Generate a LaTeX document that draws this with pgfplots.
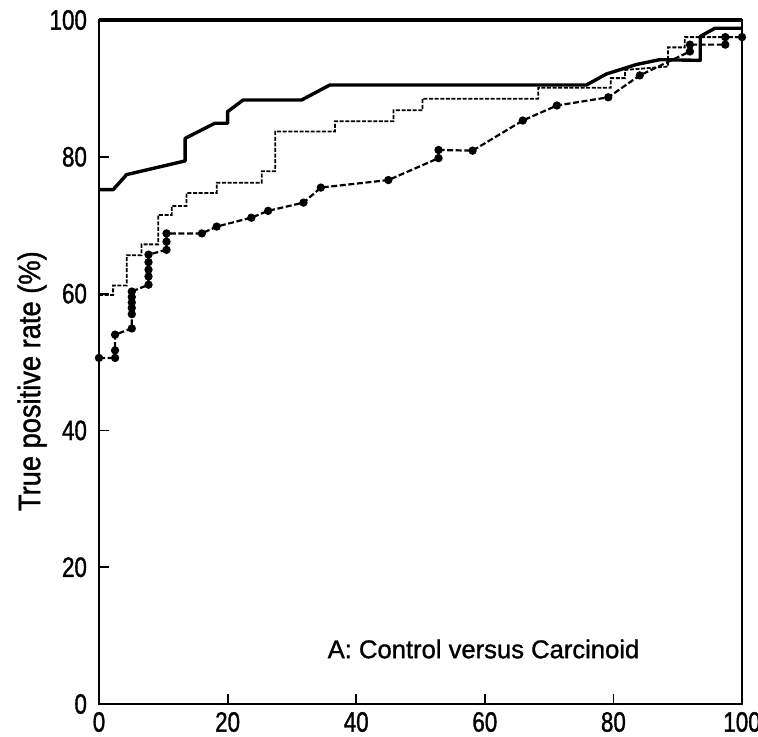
\documentclass[border=0pt]{standalone}
\usepackage{pgfplots}
\pgfplotsset{compat=1.18}
\usepackage{fontspec}
\setmainfont{Liberation Sans}[FakeBold=1.2]
\newfontfamily\tickfont{Liberation Sans}[FakeStretch=0.8, FakeBold=1.2]
\newfontfamily\labelfont{Liberation Sans}[FakeStretch=0.88, FakeBold=1.2]
\begin{document}
\begin{tikzpicture}
\path[use as bounding box] (-49.5pt,-16pt) rectangle (329.5pt,352pt);
\begin{axis}[
  at={(0,0)}, anchor=south west,
  scale only axis, width=321.5pt, height=342pt,
  xmin=0, xmax=100, ymin=0, ymax=100,
  xtick={0,20,40,60,80,100}, ytick={0,20,40,60,80,100},
  tick pos=left, tick align=inside, major tick length=5pt,
  axis line style={line width=1.3pt},
  every tick/.style={line width=0.9pt, black},
  /pgf/number format/assume math mode=true,
  ticklabel style={font=\tickfont\fontsize{14}{14}\selectfont},
  yticklabel style={xshift=-2.5pt},
  xticklabel style={yshift=-0.5pt},
  ylabel={True positive rate (\%)},
  every axis y label/.style={at={(axis description cs:-0.104,0.472)}, rotate=90, anchor=center, font=\labelfont\fontsize{15.5}{16}\selectfont},
  clip=false,
]
% solid curve
\addplot[black, line width=1.7pt, line join=round] coordinates {
(0,75.2) (2.2,75.2) (4.3,77.4) (13.4,79.4) (13.4,82.7) (18.0,84.9) (20.0,84.9)
(20.0,86.6) (22.4,88.3) (31.5,88.3) (35.9,90.5) (75.8,90.5) (78.9,92.1)
(83.6,93.5) (87.2,94.2) (93.5,94.1) (93.5,97.6) (95.8,98.8) (100,98.8)
};
% dashed step curve
\addplot[black, line width=0.9pt, dash pattern=on 2pt off 0.8pt] coordinates {
(0,59.8) (2.2,59.8) (2.2,61.2) (4.3,61.2) (4.3,65.6) (6.6,65.6) (6.6,67.2)
(9.2,67.2) (9.2,71.5) (11.3,71.5) (11.3,72.8) (13.6,72.8) (13.6,74.7)
(18.3,74.7) (18.3,76.2) (25.3,76.2) (25.3,77.9) (27.4,77.9) (27.4,83.7)
(36.7,83.7) (36.7,85.2) (45.8,85.2) (45.8,86.8) (50.3,86.8) (50.3,88.5)
(68.3,88.5) (68.3,90.1) (79.6,90.1) (79.6,91.5) (81.8,91.5) (81.8,92.7)
(88.5,93.2) (88.5,96.0) (91.1,96.0) (91.1,97.5) (100,97.5)
};
% marker curve
\addplot[black, line width=1.1pt, dash pattern=on 3pt off 1.3pt,
  mark=*, mark size=1.5pt, mark options={solid}] coordinates {
(0,50.6) (2.5,50.6) (2.5,51.7) (2.5,54.0) (5.1,54.9) (5.1,57.0) (5.1,57.9)
(5.1,58.7) (5.1,59.5) (5.1,60.3) (7.7,61.3) (7.7,62.5) (7.7,63.5) (7.7,64.6)
(7.7,65.7) (10.5,66.4) (10.5,67.6) (10.5,68.8) (16.0,68.8) (18.3,69.8)
(23.7,71.1) (26.3,72.1) (31.8,73.3) (34.5,75.5) (45.0,76.6) (52.8,79.8)
(52.8,81.0) (58.1,80.9) (65.9,85.3) (71.2,87.5) (79.2,88.7) (84.1,91.9)
(91.9,95.4) (91.9,96.4) (97.4,96.4) (97.4,97.5) (100,97.5)
};
\draw[line width=1.7pt] (rel axis cs:0,1) -- (rel axis cs:1,1);
\node[anchor=base, font=\fontsize{12.8}{14}\selectfont] at (axis cs:59.8,6.7) {A: Control versus Carcinoid};
\end{axis}
\end{tikzpicture}
\end{document}
